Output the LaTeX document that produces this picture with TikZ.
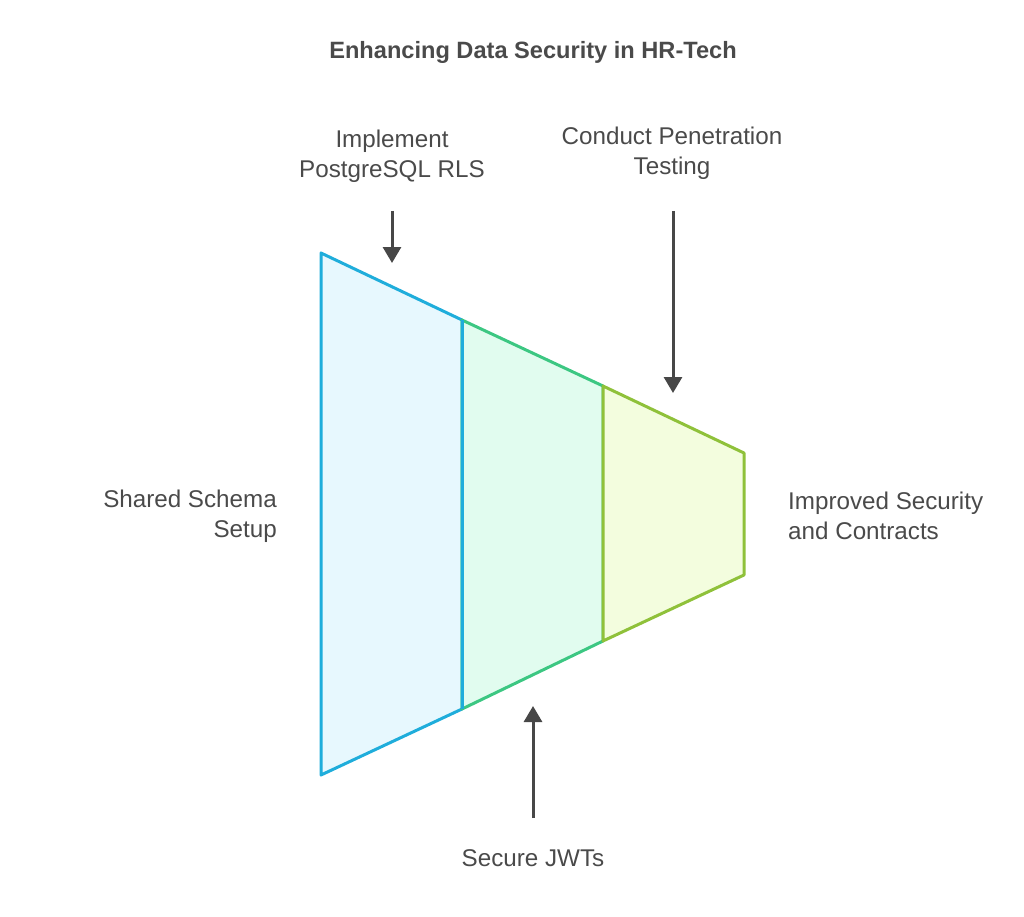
\documentclass[tikz,border=0pt]{standalone}
\usepackage{fontspec}
\setmainfont{Liberation Sans}
\usetikzlibrary{arrows.meta}
\definecolor{txt}{HTML}{4A4A4A}
\definecolor{arr}{HTML}{474747}
\definecolor{bS}{HTML}{1FADDB}
\definecolor{bF}{HTML}{E7F8FE}
\definecolor{gS}{HTML}{3CC782}
\definecolor{gF}{HTML}{E1FCEF}
\definecolor{yS}{HTML}{8FC13A}
\definecolor{yF}{HTML}{F3FDDE}
\begin{document}
\begin{tikzpicture}[x=1pt,y=-1pt,
  lbl/.style={text=txt,font=\fontsize{24.2}{30}\selectfont,inner sep=0pt},
  seg/.style={line width=3pt,line join=round},
  arrowline/.style={draw=arr,line width=3pt,-{Triangle[length=16pt,width=18pt]}}]
\useasboundingbox (0,0) rectangle (1024,917);
\node[lbl,font=\bfseries\fontsize{23.6}{28}\selectfont] (title) at (533,52) {Enhancing Data Security in HR-Tech};
% segments
\filldraw[seg,draw=bS,fill=bF] (321,253) -- (462,320) -- (462,709) -- (321,775) -- cycle;
\filldraw[seg,draw=gS,fill=gF] (462,320) -- (603,386) -- (603,641) -- (462,709) -- cycle;
\filldraw[seg,draw=yS,fill=yF] (603,386) -- (744,453) -- (744,575) -- (603,641) -- cycle;
\draw[seg,draw=bS] (462,320) -- (462,709);
% labels
\node[lbl,align=center] (rls) at (392,156) {Implement\\PostgreSQL RLS};
\node[lbl,align=center] (pen) at (672,153) {Conduct Penetration\\Testing};
\node[lbl,align=right,anchor=east] (shared) at (277,516) {Shared Schema\\Setup};
\node[lbl,align=left,anchor=west] (impr) at (788,516) {Improved Security\\and Contracts};
\node[lbl] (jwt) at (533,858) {Secure JWTs};
% arrows
\coordinate (a1s) at (392,211); \coordinate (a1e) at (392,263);
\coordinate (a2s) at (673,211); \coordinate (a2e) at (673,393);
\coordinate (a3s) at (533,818); \coordinate (a3e) at (533,706);
\draw[arrowline] (a1s) -- (a1e);
\draw[arrowline] (a2s) -- (a2e);
\draw[arrowline] (a3s) -- (a3e);
\end{tikzpicture}
\end{document}
